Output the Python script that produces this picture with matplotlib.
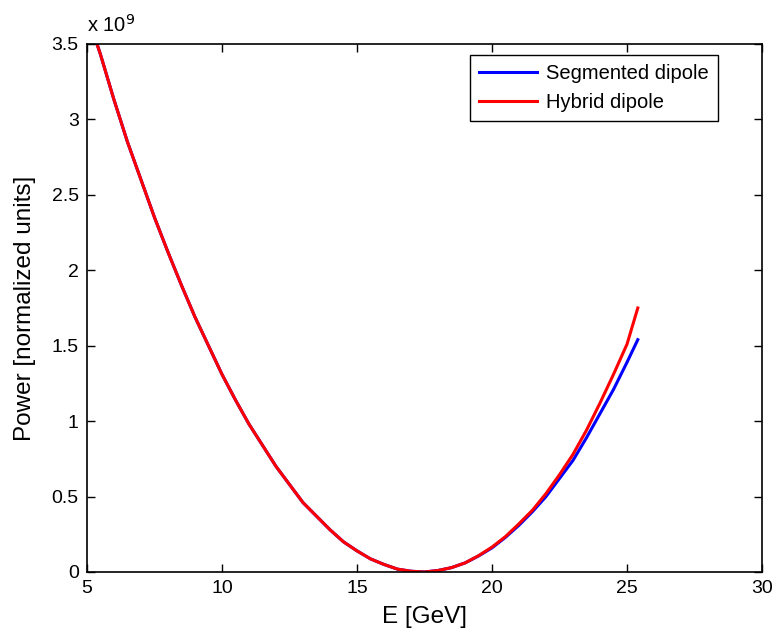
import matplotlib
matplotlib.use("Agg")
import matplotlib.pyplot as plt

plt.rcParams['font.family'] = ['Liberation Sans', 'DejaVu Sans']

# energie en GeV, puissance en unites de 1e9
energy = [5.37, 5.5, 6, 6.5, 7, 7.5, 8, 8.5, 9, 9.5, 10, 10.5, 11, 11.5,
          12, 12.5, 13, 13.5, 14, 14.5, 15, 15.5, 16, 16.5, 17, 17.5, 18,
          18.5, 19, 19.5, 20, 20.5, 21, 21.5, 22, 22.5, 23, 23.5, 24, 24.5,
          25, 25.4]
seg_power = [3.50, 3.43, 3.13, 2.85, 2.60, 2.35, 2.12, 1.90, 1.69, 1.50,
             1.31, 1.14, 0.98, 0.84, 0.70, 0.58, 0.46, 0.37, 0.28, 0.20,
             0.14, 0.087, 0.05, 0.019, 0.005, 0.0, 0.01, 0.029, 0.06, 0.106,
             0.16, 0.23, 0.31, 0.40, 0.50, 0.62, 0.74, 0.89, 1.05, 1.21,
             1.39, 1.54]
hyb_power = [3.50, 3.43, 3.13, 2.85, 2.60, 2.35, 2.12, 1.90, 1.69, 1.50,
             1.31, 1.14, 0.98, 0.84, 0.70, 0.58, 0.46, 0.37, 0.28, 0.20,
             0.14, 0.087, 0.05, 0.019, 0.005, 0.0, 0.01, 0.029, 0.06, 0.108,
             0.165, 0.235, 0.32, 0.41, 0.52, 0.645, 0.78, 0.94, 1.12, 1.31,
             1.51, 1.75]

xticks = [5, 10, 15, 20, 25, 30]
yticks = [0, 0.5, 1, 1.5, 2, 2.5, 3, 3.5]
ytick_labels = ['0', '0.5', '1', '1.5', '2', '2.5', '3', '3.5']

fig = plt.figure(figsize=(7.75, 6.28), dpi=100)
ax = fig.add_axes([87 / 775, 1 - 572 / 628, (762 - 87) / 775, (572 - 44) / 628])

ax.plot(energy, seg_power, color='#0000ff', lw=2.2, label='Segmented dipole')
ax.plot(energy, hyb_power, color='#ff0000', lw=2.2, label='Hybrid dipole')

ax.set_xlim(5, 30)
ax.set_ylim(0, 3.5)
ax.set_xticks(xticks)
ax.set_yticks(yticks)
ax.set_yticklabels(ytick_labels)
ax.tick_params(direction='in', length=6, width=1, top=True, right=True,
               labelsize=14, pad=6)
for s in ax.spines.values():
    s.set_linewidth(1.2)

ax.set_xlabel('E [GeV]', fontsize=17.5, labelpad=6)
ax.set_ylabel('Power [normalized units]', fontsize=17.5, labelpad=11)
ax.text(0.0, 1.015, 'x 10$^{9}$', transform=ax.transAxes, fontsize=14.5,
        ha='left', va='bottom')

leg = ax.legend(loc='upper right', bbox_to_anchor=(718 / 775, 1 - 55 / 628),
                bbox_transform=fig.transFigure, borderaxespad=0,
                fontsize=14.5, fancybox=False, framealpha=1,
                handlelength=2.9, handletextpad=0.45, borderpad=0.45,
                labelspacing=0.5)
leg.get_frame().set_edgecolor('black')
leg.get_frame().set_linewidth(1.0)

fig.savefig('out.png', dpi=100)
